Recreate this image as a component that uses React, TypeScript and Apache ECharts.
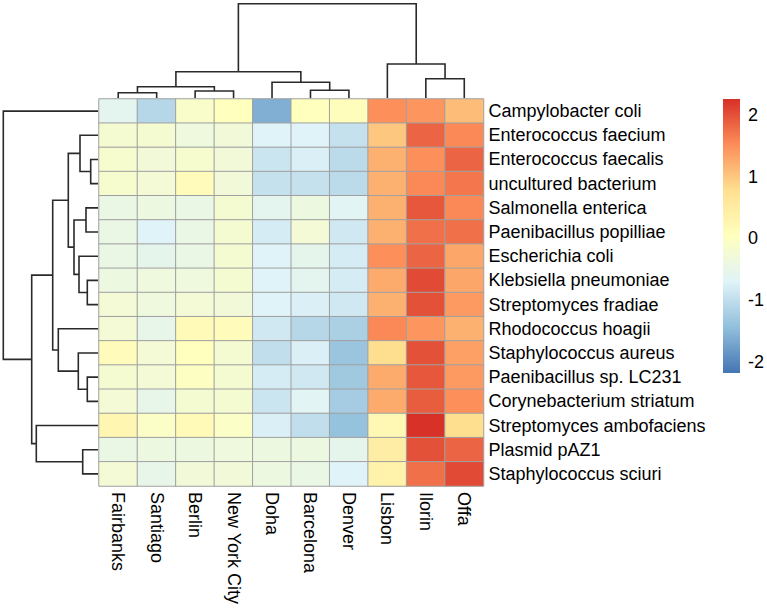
import React, { useEffect, useRef } from "react";
import * as echarts from "echarts";

const cities = ["Fairbanks", "Santiago", "Berlin", "New York City", "Doha", "Barcelona", "Denver", "Lisbon", "Ilorin", "Offa"];
const taxa = [
  "Campylobacter coli", "Enterococcus faecium", "Enterococcus faecalis", "uncultured bacterium",
  "Salmonella enterica", "Paenibacillus popilliae", "Escherichia coli", "Klebsiella pneumoniae",
  "Streptomyces fradiae", "Rhodococcus hoagii", "Staphylococcus aureus", "Paenibacillus sp. LC231",
  "Corynebacterium striatum", "Streptomyces ambofaciens", "Plasmid pAZ1", "Staphylococcus sciuri",
];

// z-scores per taxon, in city order
const campylobacterColi = [-0.6, -1.1, -0.1, 0.05, -1.6, 0.05, 0.08, 1.5, 1.45, 1.1];
const enterococcusFaecium = [-0.2, -0.2, -0.35, -0.3, -0.7, -0.7, -0.95, 1.0, 1.85, 1.55];
const enterococcusFaecalis = [-0.15, -0.3, -0.15, -0.3, -0.9, -0.75, -1.05, 1.2, 1.5, 1.85];
const unculturedBacterium = [-0.15, -0.25, 0.1, -0.3, -0.95, -0.95, -1.05, 1.2, 1.55, 1.7];
const salmonellaEnterica = [-0.45, -0.4, -0.45, -0.2, -0.6, -0.4, -0.65, 1.2, 1.95, 1.55];
const paenibacillusPopilliae = [-0.45, -0.7, -0.45, -0.2, -0.8, -0.25, -0.85, 1.2, 1.75, 1.75];
const escherichiaColi = [-0.45, -0.55, -0.45, -0.2, -0.7, -0.55, -0.8, 1.5, 1.85, 1.3];
const klebsiellaPneumoniae = [-0.4, -0.35, -0.35, -0.2, -0.7, -0.6, -0.8, 1.25, 2.05, 1.3];
const streptomycesFradiae = [-0.25, -0.35, -0.25, -0.3, -0.7, -0.75, -0.85, 1.2, 2.0, 1.4];
const rhodococcusHoagii = [-0.25, -0.5, 0.15, 0.1, -0.85, -1.1, -1.2, 1.55, 1.45, 1.2];
const staphylococcusAureus = [0.1, -0.25, 0.05, -0.2, -1.0, -0.75, -1.35, 0.8, 2.0, 1.35];
const paenibacillusLC231 = [-0.2, -0.25, 0.0, -0.2, -0.8, -0.85, -1.3, 1.25, 1.95, 1.4];
const corynebacteriumStriatum = [-0.25, -0.5, -0.2, -0.2, -0.9, -0.65, -1.25, 1.25, 1.9, 1.5];
const streptomycesAmbofaciens = [0.25, -0.05, 0.15, -0.05, -0.75, -1.0, -1.4, 0.2, 2.25, 0.8];
const plasmidPAZ1 = [-0.45, -0.4, -0.4, -0.35, -0.4, -0.4, -0.55, 0.45, 2.0, 1.85];
const staphylococcusSciuri = [-0.25, -0.5, -0.3, -0.3, -0.4, -0.45, -0.7, 0.35, 1.75, 2.05];

const rows = [
  campylobacterColi, enterococcusFaecium, enterococcusFaecalis, unculturedBacterium,
  salmonellaEnterica, paenibacillusPopilliae, escherichiaColi, klebsiellaPneumoniae,
  streptomycesFradiae, rhodococcusHoagii, staphylococcusAureus, paenibacillusLC231,
  corynebacteriumStriatum, streptomycesAmbofaciens, plasmidPAZ1, staphylococcusSciuri,
];

// hclust-style merges: negative = leaf (1-based, in display order), positive = earlier merge
const colMerges: [number, number, number][] = [
  [-1, -2, 5.3],
  [-3, -4, 7.0],
  [1, 2, 11.3],
  [-6, -7, 7.7],
  [-5, 4, 15.7],
  [3, 5, 26.3],
  [-9, -10, 19.3],
  [-8, 7, 34.0],
  [6, 8, 94.3],
];
const rowMerges: [number, number, number][] = [
  [-3, -4, 7.3],
  [-2, 1, 18.0],
  [-5, -6, 12.0],
  [-8, -9, 10.7],
  [-7, 4, 19.0],
  [3, 5, 24.0],
  [2, 6, 29.7],
  [-12, -13, 10.7],
  [-11, 8, 19.7],
  [-10, 9, 39.7],
  [7, 10, 45.3],
  [-15, -16, 15.3],
  [-14, 12, 61.7],
  [11, 13, 66.3],
  [-1, 14, 94.7],
];

const colorMin = -2.18;
const colorMax = 2.26;
const legendTicks = [-2, -1, 0, 1, 2];
const palette = ["#4575B4", "#91BFDB", "#E0F3F8", "#FFFFBF", "#FEE090", "#FC8D59", "#D73027"];

function dendroSegments(merges: [number, number, number][]) {
  const pos: number[] = [];
  const hgt: number[] = [];
  const out: number[][] = [];
  const get = (id: number) => (id < 0 ? [-id - 1 + 0.5, 0] : [pos[id - 1], hgt[id - 1]]);
  merges.forEach(([a, b, h]) => {
    const [pa, ha] = get(a);
    const [pb, hb] = get(b);
    out.push([pa, ha, pb, hb, h]);
    pos.push((pa + pb) / 2);
    hgt.push(h);
  });
  return out;
}

const FONT = "'Liberation Sans', Arial, sans-serif";
const FS = 18;

export default function App() {
  const ref = useRef<HTMLDivElement>(null);
  useEffect(() => {
    if (!ref.current) return;
    const chart = echarts.init(ref.current, undefined, { renderer: "svg" });
    const heat: number[][] = [];
    rows.forEach((r, ri) => r.forEach((v, ci) => heat.push([ci, ri, v])));
    const lineStyle = { stroke: "#2a2a2a", lineWidth: 1.6, fill: null as any };

    chart.setOption({
      animation: false,
      textStyle: { fontFamily: FONT },
      grid: [
        { left: 99, top: 99, width: 384.5, height: 387 },
        { left: 99, top: 0, width: 384.5, height: 98 },
        { left: 0, top: 99, width: 98, height: 387 },
        { left: 723, top: 99, width: 18, height: 274 },
      ],
      xAxis: [
        {
          type: "category", gridIndex: 0, data: cities, position: "bottom",
          axisLine: { show: false }, axisTick: { show: false }, splitLine: { show: false },
          axisLabel: { rotate: -90, interval: 0, fontSize: FS, margin: 6, color: "#000", fontFamily: FONT },
        },
        { type: "value", gridIndex: 1, min: 0, max: cities.length, show: false },
        { type: "value", gridIndex: 2, min: 0, max: 98, inverse: true, show: false },
        { type: "value", gridIndex: 3, min: 0, max: 1, show: false },
      ],
      yAxis: [
        {
          type: "category", gridIndex: 0, data: taxa, inverse: true, position: "right",
          axisLine: { show: false }, axisTick: { show: false }, splitLine: { show: false },
          axisLabel: { interval: 0, fontSize: FS, margin: 5, color: "#000", fontFamily: FONT },
        },
        { type: "value", gridIndex: 1, min: 0, max: 98, show: false },
        { type: "value", gridIndex: 2, min: 0, max: taxa.length, inverse: true, show: false },
        {
          type: "value", gridIndex: 3, min: colorMin, max: colorMax, position: "right",
          axisLine: { show: false }, axisTick: { show: false }, splitLine: { show: false },
          axisLabel: { customValues: legendTicks, fontSize: FS, margin: 8, color: "#000", fontFamily: FONT },
        },
      ],
      visualMap: {
        type: "continuous", show: false, min: colorMin, max: colorMax, seriesIndex: 0, dimension: 2,
        inRange: { color: palette },
      },
      series: [
        {
          type: "heatmap", xAxisIndex: 0, yAxisIndex: 0, data: heat,
          itemStyle: { borderColor: "#A0A0A0", borderWidth: 1 },
          emphasis: { disabled: true },
        },
        {
          type: "custom", xAxisIndex: 1, yAxisIndex: 1, data: dendroSegments(colMerges),
          renderItem: (_p: any, api: any) => {
            const pa = api.value(0), ha = api.value(1), pb = api.value(2), hb = api.value(3), h = api.value(4);
            const pts = [api.coord([pa, ha]), api.coord([pa, h]), api.coord([pb, h]), api.coord([pb, hb])];
            return { type: "polyline", shape: { points: pts }, style: lineStyle };
          },
        },
        {
          type: "custom", xAxisIndex: 2, yAxisIndex: 2, data: dendroSegments(rowMerges),
          renderItem: (_p: any, api: any) => {
            const pa = api.value(0), ha = api.value(1), pb = api.value(2), hb = api.value(3), h = api.value(4);
            const pts = [api.coord([ha, pa]), api.coord([h, pa]), api.coord([h, pb]), api.coord([hb, pb])];
            return { type: "polyline", shape: { points: pts }, style: lineStyle };
          },
        },
        {
          type: "custom", xAxisIndex: 3, yAxisIndex: 3, data: [[0, colorMin, 1, colorMax]],
          renderItem: (_p: any, api: any) => {
            const p1 = api.coord([api.value(0), api.value(3)]);
            const p2 = api.coord([api.value(2), api.value(1)]);
            const stops = palette.slice().reverse().map((c, i) => ({ offset: i / (palette.length - 1), color: c }));
            return {
              type: "rect",
              shape: { x: p1[0], y: p1[1], width: p2[0] - p1[0], height: p2[1] - p1[1] },
              style: { fill: new echarts.graphic.LinearGradient(0, 0, 0, 1, stops) },
            };
          },
        },
      ],
    });
    return () => chart.dispose();
  }, []);
  return <div ref={ref} style={{ position: "fixed", left: 0, top: 0, width: 767, height: 613, background: "#fff" }} />;
}
